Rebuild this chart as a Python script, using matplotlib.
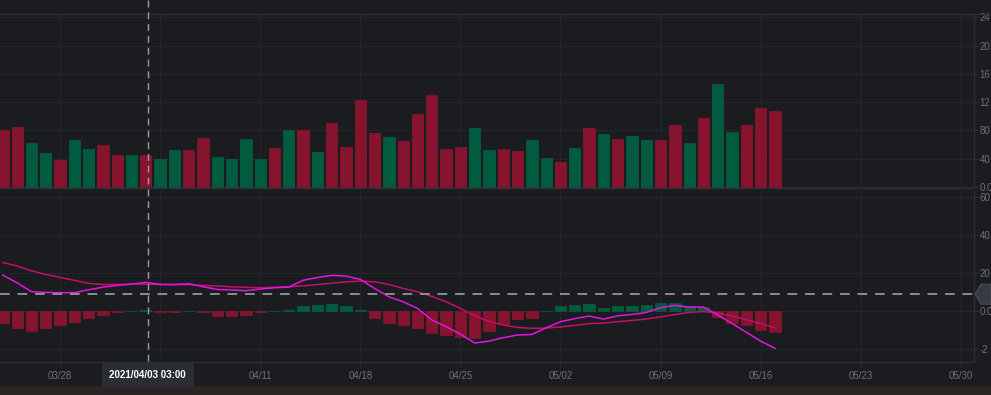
import numpy as np
import pandas as pd
import matplotlib
matplotlib.use("Agg")
import matplotlib.pyplot as plt
import matplotlib.dates as mdates
import matplotlib.transforms as mtransforms
from matplotlib.patches import Polygon, Rectangle

# daily candles, 2021-03-24 .. 2021-05-17
dates = pd.date_range("2021-03-24", periods=55, freq="D")

volume = [81, 85, 62, 48, 37.5, 66, 53, 59, 45, 45, 45, 39, 52, 52, 69, 42, 39, 68, 39, 55,
          81, 80, 50, 90, 57, 122.5, 76, 70.6, 65, 103, 130, 53, 56, 84, 52, 53, 51, 66, 40.7, 35,
          55.7, 83, 75, 68, 72.5, 67, 67, 87.5, 62.7, 98, 145, 78, 87.5, 112, 106.7]
# 1 = up (green), 0 = down (red)
up = [0, 0, 1, 1, 0, 1, 1, 0, 0, 1, 0, 1, 1, 0, 0, 1, 1, 1, 1, 0,
      1, 0, 1, 0, 0, 0, 0, 1, 0, 0, 0, 0, 0, 1, 1, 0, 0, 1, 1, 0,
      1, 0, 1, 0, 1, 1, 0, 0, 1, 0, 1, 1, 0, 0, 0]

dif = [18.9, 14.9, 10.2, 9.8, 9.7, 9.7, 11.2, 12.6, 13.5, 14.2, 15.1, 14.0, 14.0, 14.4, 12.8,
       11.4, 11.1, 10.7, 11.6, 12.3, 12.6, 16.2, 17.7, 18.8, 18.4, 16.7, 11.9, 7.5, 4.9, 1.4,
       -4.7, -8.2, -12.1, -16.8, -15.8, -14.0, -12.6, -12.3, -8.8, -5.6, -4.0, -2.6, -4.2, -2.5,
       -1.8, -0.7, 1.8, 3.0, 2.1, 2.1, -2.1, -6.5, -11.2, -15.8, -19.6]
dea = [25.6, 23.7, 21.2, 19.3, 17.7, 16.2, 14.6, 14.0, 14.0, 14.2, 14.2, 14.0, 13.9, 13.9, 13.5,
       13.2, 12.8, 12.5, 12.3, 12.5, 12.8, 13.3, 14.0, 14.7, 15.4, 15.8, 15.4, 14.0, 11.9, 10.2,
       7.7, 4.9, 1.4, -2.5, -5.4, -7.4, -8.6, -9.1, -8.9, -8.4, -7.5, -6.6, -6.3, -5.6, -4.9,
       -4.2, -3.0, -1.8, -0.7, -0.3, -1.0, -2.6, -4.6, -6.5, -8.8]
hist = [-6.5, -8.8, -10.7, -9.1, -7.2, -6.0, -3.9, -1.8, -0.7, 0.3, 0.5, -0.5, -0.5, 0.3, -0.5,
        -2.6, -2.5, -2.3, -0.6, 0.3, 0.5, 2.6, 3.3, 3.7, 2.5, 0.5, -3.5, -6.1, -7.2, -9.1,
        -11.4, -12.6, -13.5, -14.0, -10.4, -6.8, -4.4, -3.5, 0.3, 2.5, 3.2, 3.7, 1.8, 2.6, 2.6,
        3.2, 4.2, 4.4, 2.6, 2.3, -3.0, -6.1, -7.4, -10.0, -11.0]

vol_ticks = [0, 40, 80, 120, 160, 200, 240]
vol_labels = ["0.0", "40", "80", "12", "16", "20", "24"]
macd_ticks = [-20, 0, 20, 40, 60]
macd_labels = ["-2", "0.0", "20", "40", "60"]
x_ticks = pd.date_range("2021-03-28", "2021-05-30", freq="7D")
last_value = 8.9
cross_time = pd.Timestamp("2021-04-03 03:00")

BG = "#1b1c20"
GRID = "#25262b"
SPINE = "#2e3035"
TXT = "#6e717a"
RED = "#86142f"
GREEN = "#025b3f"

plt.rcParams["font.family"] = ["Liberation Sans", "DejaVu Sans"]

W, H = 991, 395
fig = plt.figure(figsize=(W / 100, H / 100), dpi=100, facecolor=BG)

def box(top, bottom):
    return [0, 1 - bottom / H, 974 / W, (bottom - top) / H]

ax1 = fig.add_axes(box(14, 188))
ax2 = fig.add_axes(box(191, 362), sharex=ax1)

bar_colors = [GREEN if u else RED for u in up]
ax1.bar(dates, volume, width=0.79, color=bar_colors, edgecolor=bar_colors, linewidth=0.6, zorder=2)

hist_colors = [GREEN if h >= 0 else RED for h in hist]
ax2.bar(dates, hist, width=0.79, color=hist_colors, edgecolor=hist_colors, linewidth=0.6, zorder=2)
ax2.plot(dates, dea, color="#c2106c", lw=1.1, zorder=3)
ax2.plot(dates, dif, color="#e414e2", lw=1.1, zorder=4)
ax2.axhline(last_value, color="#8c8d92", lw=1.4, ls=(0, (5, 4)), zorder=5)

x0 = mdates.date2num(dates[0])
ax1.set_xlim(x0 - 0.2, x0 + 67.92)
ax1.set_ylim(-1.5, 244.6)
ax2.set_ylim(-26.8, 63.2)

for ax in (ax1, ax2):
    ax.set_facecolor(BG)
    ax.yaxis.tick_right()
    ax.set_xticks(x_ticks)
    ax.grid(True, color=GRID, lw=0.8, zorder=0)
    for s in ("left", "top"):
        ax.spines[s].set_visible(False)
    for s in ("right", "bottom"):
        ax.spines[s].set_color(SPINE)
        ax.spines[s].set_linewidth(1.0)
    ax.tick_params(axis="y", colors=SPINE, labelcolor=TXT, labelsize=7, length=3, width=0.8, pad=1.0)
    ax.tick_params(axis="x", colors=SPINE, labelcolor=TXT, labelsize=7, length=3.5, width=0.8, pad=3)

ax1.set_yticks(vol_ticks)
ax1.set_yticklabels(vol_labels)
ax1.tick_params(axis="x", labelbottom=False, length=0)

ax2.set_yticks(macd_ticks)
ax2.set_yticklabels(macd_labels)
xlabels = [d.strftime("%m/%d") for d in x_ticks]
xlabels[1] = ""  # hidden under the crosshair label
ax2.set_xticklabels(xlabels)

# top border line of the chart, full width
fig.add_artist(plt.Line2D([0, 1], [1 - 14 / H, 1 - 14 / H], transform=fig.transFigure,
                          color=SPINE, lw=1.0))

# crosshair through both panes
cx = mdates.date2num(cross_time)
tr = mtransforms.blended_transform_factory(ax2.transData, fig.transFigure)
fig.add_artist(plt.Line2D([cx, cx], [1.0, 1 - 362 / H], transform=tr,
                          color="#9a9ca1", lw=1.0, ls=(0, (5, 3.5)), zorder=10))
fig.text(cx, 1 - 374.5 / H, cross_time.strftime("%Y/%m/%d %H:%M"), transform=tr,
         ha="center", va="center", color="white", fontsize=7, fontweight="bold", zorder=11,
         bbox=dict(boxstyle="square,pad=0.78", facecolor="#2a2d34", edgecolor="none"))

# price tag on the right edge for the dashed line
trt = mtransforms.blended_transform_factory(fig.transFigure, ax2.transData)
dv = 10 * (ax2.get_ylim()[1] - ax2.get_ylim()[0]) / 171
tag = Polygon([[975 / W, last_value], [981 / W, last_value + dv], [1.0, last_value + dv],
               [1.0, last_value - dv], [981 / W, last_value - dv]],
              closed=True, transform=trt, facecolor="#363a44", edgecolor="#4a4e58",
              lw=0.8, clip_on=False, zorder=12)
fig.add_artist(tag)

# bottom strip of the screen capture
fig.add_artist(Rectangle((0, 0), 1, 9 / H, transform=fig.transFigure,
                         facecolor="#2a2522", edgecolor="none"))

fig.savefig("out.png", dpi=100, facecolor=BG)
